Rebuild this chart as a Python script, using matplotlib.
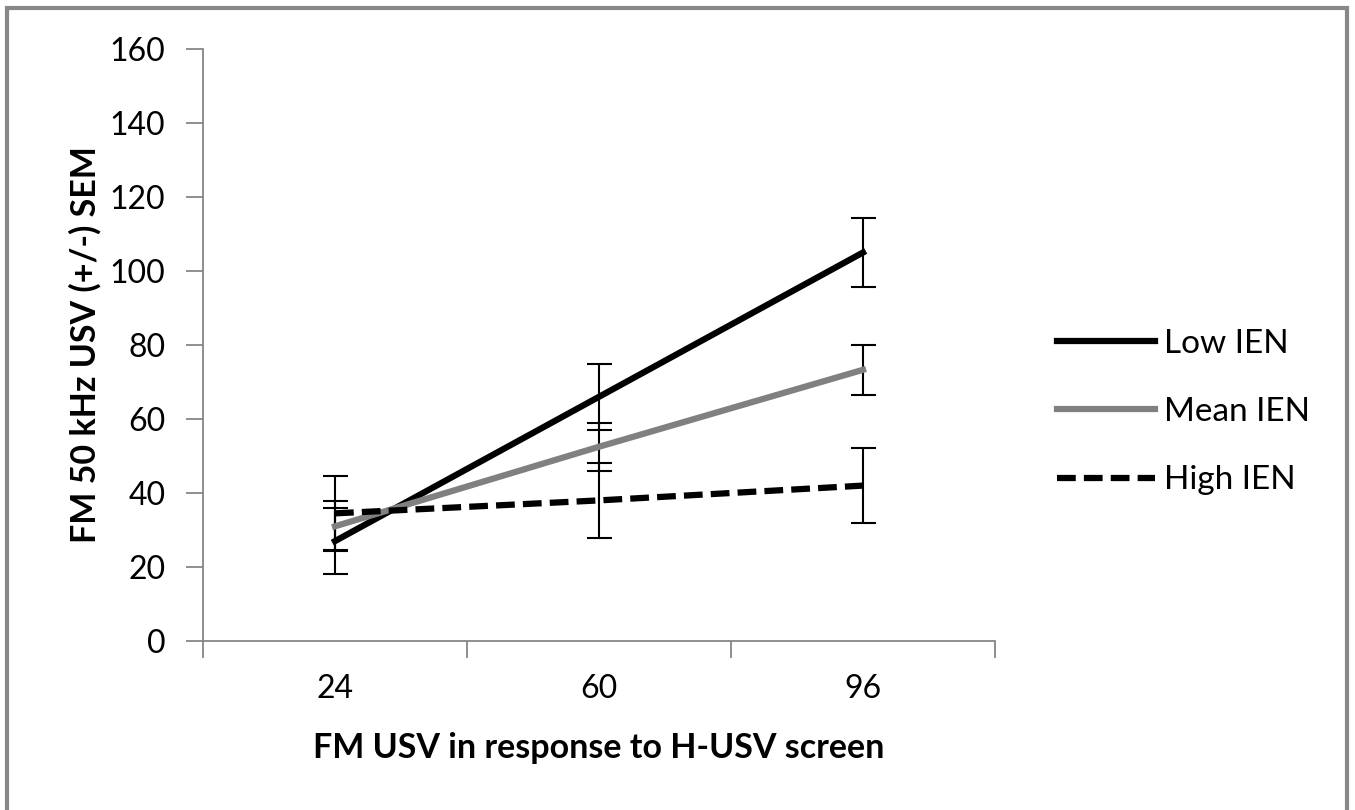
#!/usr/bin/env python3

import matplotlib
matplotlib.use('Agg')
import matplotlib.pyplot as plt  # type: ignore
from matplotlib.patches import Rectangle  # type: ignore

# data
categories = ['24', '60', '96']
low_ien = [27.0, 66.0, 105.0]
low_sem = [9.0, 9.0, 9.2]
mean_ien = [31.0, 52.5, 73.3]
mean_sem = [6.8, 6.5, 6.8]
high_ien = [34.5, 38.0, 42.0]
high_sem = [10.0, 10.2, 10.2]

plt.rcParams['font.family'] = ['Lato', 'DejaVu Sans']

fig = plt.figure(figsize=(13.55, 8.1), dpi=100)
ax = fig.add_axes([203 / 1355, 1 - 641 / 810, 792 / 1355, 592 / 810])

xs = list(range(len(categories)))
err_kw = dict(ecolor='black', elinewidth=1.5, capsize=9, capthick=1.5)

ax.errorbar(xs, low_ien, yerr=low_sem, color='black', lw=4.5,
            label='Low IEN', **err_kw)
ax.errorbar(xs, mean_ien, yerr=mean_sem, color='#808080', lw=4.5,
            label='Mean IEN', **err_kw)
ax.errorbar(xs, high_ien, yerr=high_sem, color='black', lw=4.5,
            ls=(0, (3.0, 1.3)), label='High IEN', **err_kw)

ax.set_xlim(-0.5, len(categories) - 0.5)
ax.set_ylim(0, 160)
ax.set_yticks(range(0, 161, 20))
ax.set_xticks(xs)
ax.set_xticklabels(categories)
ax.set_xticks([x - 0.5 for x in range(len(categories) + 1)], minor=True)

for side in ['top', 'right']:
    ax.spines[side].set_visible(False)
for side in ['left', 'bottom']:
    ax.spines[side].set_color('#868686')
    ax.spines[side].set_linewidth(1.3)

ax.tick_params(axis='y', which='major', length=12, width=1.3,
               color='#868686', labelsize=23, pad=15)
ax.tick_params(axis='x', which='major', length=0, labelsize=23, pad=24)
ax.tick_params(axis='x', which='minor', length=12, width=1.3,
               color='#868686')

ax.set_xlabel('FM USV in response to H-USV screen', fontsize=24.5,
              fontweight='bold', labelpad=20)
ax.set_ylabel('FM 50 kHz USV (+/-) SEM', fontsize=24.5, fontweight='bold',
              labelpad=6)

handles, labels = ax.get_legend_handles_labels()
handles = [h[0] for h in handles]
ax.legend(handles, labels, loc='center left',
          bbox_to_anchor=(1057 / 1355, 1 - 412 / 810),
          bbox_transform=fig.transFigure, borderpad=0, borderaxespad=0,
          frameon=False, fontsize=24, handlelength=2.95, handletextpad=0.25,
          labelspacing=1.15)

# outer chart frame
fig.patches.append(Rectangle((7 / 1355, -0.05), 1340 / 1355, 1.05 - 8 / 810,
                             transform=fig.transFigure, fill=False,
                             edgecolor='#888888', linewidth=3))

fig.savefig('out.png', dpi=100)
